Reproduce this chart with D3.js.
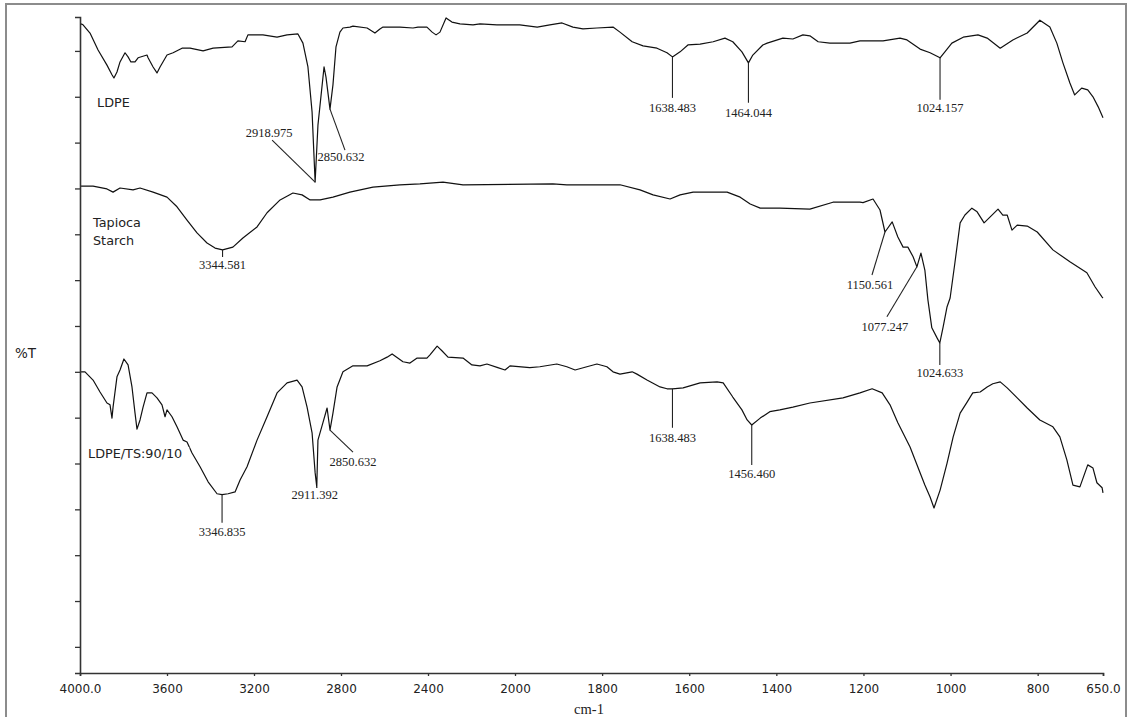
<!DOCTYPE html>
<html>
<head>
<meta charset="utf-8">
<script src="https://cdn.jsdelivr.net/npm/d3@7"></script>
<style>
  html, body { margin: 0; padding: 0; background: #fff; }
  svg { display: block; }
</style>
</head>
<body>
<svg id="chart" width="1129" height="717"></svg>
<script>
// FTIR spectra (wavenumber cm-1, %T with stacking offsets)
const ldpe = [
  [3995,135.9],[3986,135.7],[3954,133.9],[3917,130.2],[3876,126.9],[3853,124.8],[3844,124.1],
  [3830,125.4],[3816,127.6],[3793,129.6],[3779,128.7],[3766,127.6],[3747,127.6],[3733,128.5],
  [3692,129.1],[3687,128.5],[3664,126.5],[3646,125.2],[3632,126.5],[3600,129.1],[3572,129.6],
  [3531,130.6],[3494,130.6],[3434,130.0],[3388,130.6],[3301,130.9],[3274,132.2],[3241,132.0],
  [3228,133.5],[3159,133.5],[3094,133.0],[3048,133.5],[2998,133.7],[2975,131.7],[2952,126.5],
  [2933,116.7],[2918.975,101.4],[2906,113.8],[2878,126.5],[2869,124.3],[2850.632,117.3],
  [2837,122.6],[2823,130.9],[2805,134.1],[2791,135.0],[2759,135.2],[2745,135.4],[2680,135.0],
  [2644,133.9],[2621,134.8],[2607,135.2],[2529,135.2],[2469,135.0],[2446,135.2],[2405,135.2],
  [2381,134.1],[2363,133.5],[2345,134.1],[2317,137.2],[2290,136.3],[2253,135.9],[2193,135.7],
  [2161,135.9],[2083,135.7],[1989,135.7],[1949,135.2],[1920,135.7],[1892,136.1],[1867,135.2],
  [1844,134.8],[1812,135.0],[1775,135.2],[1759,134.1],[1731,132.0],[1706,131.1],[1674,130.6],
  [1651,129.6],[1638.483,128.7],[1621,129.8],[1603,131.3],[1575,131.5],[1545,132.0],[1518,132.8],
  [1500,132.0],[1479,129.8],[1464.044,127.4],[1454,129.1],[1431,131.3],[1421,131.7],[1385,132.8],
  [1362,132.6],[1339,133.5],[1323,133.3],[1304,132.0],[1277,131.7],[1231,131.7],[1208,132.2],
  [1155,132.2],[1116,132.8],[1100,132.4],[1070,130.4],[1047,129.6],[1024.157,128.5],[1013,129.8],
  [997,131.7],[971,133.0],[937,133.5],[916,132.8],[886,130.6],[857,132.4],[824,133.9],[795,136.7],
  [772,135.2],[756,131.7],[742,127.4],[726,123.0],[715,120.4],[699,121.9],[685,121.5],[673,120.0],
  [661,117.8],[650,115.4]
];

const starch = [
  [3995,100.5],[3940,100.5],[3876,99.9],[3848,99.2],[3816,100.1],[3756,99.7],[3724,100.1],
  [3664,99.2],[3600,98.1],[3554,96.0],[3508,93.1],[3462,90.3],[3416,88.1],[3379,87.0],
  [3344.581,86.6],[3297,87.2],[3251,89.2],[3186,91.6],[3140,94.7],[3080,97.5],[3021,99.0],
  [2979,98.6],[2942,97.5],[2896,97.5],[2837,98.1],[2759,99.2],[2653,100.3],[2529,100.8],
  [2437,101.0],[2331,101.4],[2239,100.8],[1913,101.0],[1881,100.8],[1759,100.8],[1713,99.7],
  [1683,98.6],[1644,97.7],[1621,98.6],[1591,99.2],[1513,99.2],[1483,98.1],[1460,96.6],
  [1437,95.7],[1392,95.7],[1323,95.5],[1270,97.0],[1208,97.0],[1201,96.9],[1178,97.7],
  [1162,95.3],[1150.561,90.5],[1134,92.7],[1121,89.4],[1109,87.2],[1098,87.2],[1086,85.1],
  [1077.247,82.9],[1068,85.9],[1059,82.2],[1052,75.7],[1043,69.6],[1031,67.4],[1024.633,66.3],
  [1017,69.8],[1008,74.2],[1001,76.1],[990,83.8],[978,92.5],[967,94.2],[951,95.7],[939,94.9],
  [923,92.5],[909,93.8],[891,95.5],[880,94.2],[870,94.2],[859,90.9],[847,92.0],[824,91.8],
  [801,90.5],[765,86.6],[726,84.0],[687,81.6],[668,78.5],[652,76.3],[650,76.1]
];

const blend = [
  [3995,60.0],[3977,60.0],[3940,58.2],[3908,55.6],[3876,53.2],[3862,52.8],[3853,49.9],
  [3848,52.3],[3830,58.9],[3816,60.4],[3798,62.8],[3779,61.5],[3761,56.7],[3747,51.0],
  [3738,47.5],[3724,49.5],[3710,52.3],[3692,55.4],[3669,55.4],[3646,54.3],[3623,52.8],
  [3609,50.2],[3600,51.7],[3577,50.2],[3554,48.0],[3526,45.1],[3508,44.7],[3485,42.3],
  [3448,39.3],[3411,36.0],[3370,33.4],[3346.835,33.2],[3319,33.4],[3287,33.8],[3264,36.4],
  [3232,39.3],[3186,45.1],[3140,50.2],[3094,55.4],[3048,57.6],[3002,58.2],[2979,56.7],
  [2956,52.3],[2933,46.7],[2919,38.0],[2911.392,34.9],[2906,45.1],[2883,48.9],[2864,52.1],
  [2850.632,47.3],[2837,51.0],[2818,56.7],[2791,60.0],[2745,61.3],[2680,61.3],[2621,62.4],
  [2588,63.2],[2565,63.9],[2515,62.2],[2483,61.9],[2450,63.0],[2405,63.0],[2391,63.7],
  [2358,65.6],[2336,64.6],[2308,63.2],[2239,63.0],[2198,61.5],[2161,61.3],[2129,61.7],
  [2079,60.9],[2046,60.4],[2023,61.3],[1966,60.9],[1943,61.1],[1904,61.7],[1881,61.1],
  [1862,60.4],[1835,61.1],[1812,61.7],[1789,61.1],[1775,60.0],[1759,59.5],[1731,60.0],
  [1720,59.5],[1697,58.2],[1667,56.7],[1651,56.3],[1638.483,56.3],[1614,56.5],[1575,57.6],
  [1536,57.8],[1522,57.6],[1500,54.5],[1479,51.7],[1467,49.5],[1456.46,48.4],[1437,49.9],
  [1415,51.3],[1392,51.7],[1362,52.3],[1323,53.2],[1247,54.3],[1208,55.4],[1180,56.3],
  [1157,55.4],[1139,52.8],[1121,48.9],[1093,43.6],[1070,38.0],[1059,35.3],[1047,32.7],
  [1038,30.3],[1024,34.2],[1008,40.1],[994,45.8],[978,51.0],[962,53.4],[949,55.4],[932,55.6],
  [916,56.7],[903,57.4],[886,57.8],[870,56.5],[847,54.3],[824,52.1],[795,49.5],[765,48.0],
  [749,45.8],[733,40.8],[719,35.3],[703,34.9],[685,39.7],[673,39.0],[664,35.8],[652,34.7],
  [650,33.6]
];

// Marked peak positions (cm-1)
const ldpePeaks = [2918.975, 2850.632, 1638.483, 1464.044, 1024.157];
const starchPeaks = [3344.581, 1150.561, 1077.247, 1024.633];
const blendPeaks = [3346.835, 2911.392, 2850.632, 1638.483, 1456.460];

const seriesNames = ["LDPE", "Tapioca Starch", "LDPE/TS:90/10"];

// Axis ticks
const xTicks = [4000, 3600, 3200, 2800, 2400, 2000, 1800, 1600, 1400, 1200, 1000, 800, 650];
const xTickLabels = ["4000.0", "3600", "3200", "2800", "2400", "2000", "1800", "1600", "1400", "1200", "1000", "800", "650.0"];
const yTicks = [0, 10, 20, 30, 40, 50, 60, 70, 80, 90, 100, 110, 120, 130];

const svg = d3.select("#chart");

// outer frame
svg.append("rect")
  .attr("x", 6).attr("y", 4).attr("width", 1120).attr("height", 730)
  .attr("fill", "#fff").attr("stroke", "#8c8c8c").attr("stroke-width", 2);

// x scale expands by 2x below 2000 cm-1
const x = d3.scaleLinear().domain([4000, 2000, 650]).range([80, 515, 1103]);
const y = d3.scaleLinear().domain([-5.7, 137.4]).range([673, 17]);

// axes
const xAxis = d3.axisBottom(x)
  .tickValues(xTicks)
  .tickFormat((d, i) => xTickLabels[i])
  .tickSize(3).tickSizeOuter(3).tickPadding(8);
const gx = svg.append("g").attr("transform", "translate(0,673)").call(xAxis);
gx.selectAll("text")
  .attr("font-family", "DejaVu Sans, sans-serif").attr("font-size", 12).attr("fill", "#222");

const yAxis = d3.axisLeft(y).tickValues(yTicks).tickFormat("").tickSize(5).tickSizeOuter(5);
const gy = svg.append("g").attr("transform", "translate(80,0)").call(yAxis);

svg.selectAll(".domain").attr("stroke", "#333").attr("stroke-width", 1.6);
svg.selectAll(".tick line").attr("stroke", "#333").attr("stroke-width", 1.3);

// axis titles
svg.append("text").attr("x", 589).attr("y", 714).attr("text-anchor", "middle")
  .attr("font-family", "Liberation Serif, serif").attr("font-size", 14.5).attr("fill", "#222")
  .text("cm-1");
svg.append("text").attr("x", 15).attr("y", 358)
  .attr("font-family", "DejaVu Sans, sans-serif").attr("font-size", 13.5).attr("fill", "#222")
  .text("%T");

// spectra
const line = d3.line().x(d => x(d[0])).y(d => y(d[1]));
const plot = svg.append("g");
[ldpe, starch, blend].forEach(s => {
  plot.append("path").datum(s).attr("d", line)
    .attr("fill", "none").attr("stroke", "#111").attr("stroke-width", 1.2)
    .attr("stroke-linejoin", "round");
});

// series captions
const captions = svg.append("g")
  .attr("font-family", "DejaVu Sans, sans-serif").attr("font-size", 12.8).attr("fill", "#222");
captions.append("text").attr("x", 97).attr("y", 107).text(seriesNames[0]);
const tp = seriesNames[1].split(" ");
captions.append("text").attr("x", 93).attr("y", 227).text(tp[0]);
captions.append("text").attr("x", 93).attr("y", 245).text(tp[1]);
const blendCap = captions.append("text").attr("x", 88).attr("y", 458).text(seriesNames[2]);
const bb = blendCap.node().getBBox();
captions.insert("rect", "text:last-child")
  .attr("x", bb.x - 2).attr("y", bb.y + 1).attr("width", bb.width + 9).attr("height", bb.height - 1)
  .attr("fill", "#fff");

// peak annotations: leader end [dx, dy] and label baseline [lx, ly] relative to the peak point
const leaderLayout = {
  ldpe:   [[-43, -42, -46, -45], [15, 41, 11, 52], [0, 41, 0, 55], [0, 40, 0, 54], [0, 42, 0, 54]],
  starch: [[0, 7, 0, 19], [-13, 43, -15, 57], [-30, 50, -32, 64], [0, 22, 0, 34]],
  blend:  [[0, 28, 0, 41], [0, 1, -2, 12], [23, 22, 23, 36], [0, 39, 0, 53], [0, 40, 0, 53]]
};
const fmt = d3.format(".3f");
const ann = svg.append("g");
function annotate(series, peaks, layout) {
  peaks.forEach((wn, i) => {
    const p = d3.least(series, d => Math.abs(d[0] - wn));
    const px = x(wn), py = y(p[1]);
    const [dx, dy, lx, ly] = layout[i];
    ann.append("line").attr("x1", px).attr("y1", py).attr("x2", px + dx).attr("y2", py + dy)
      .attr("stroke", "#222").attr("stroke-width", 1.1);
    ann.append("text").attr("x", px + lx).attr("y", py + ly).attr("text-anchor", "middle")
      .attr("font-family", "Liberation Serif, serif").attr("font-size", 12.5).attr("fill", "#222")
      .text(fmt(wn));
  });
}
annotate(ldpe, ldpePeaks, leaderLayout.ldpe);
annotate(starch, starchPeaks, leaderLayout.starch);
annotate(blend, blendPeaks, leaderLayout.blend);
</script>
</body>
</html>
